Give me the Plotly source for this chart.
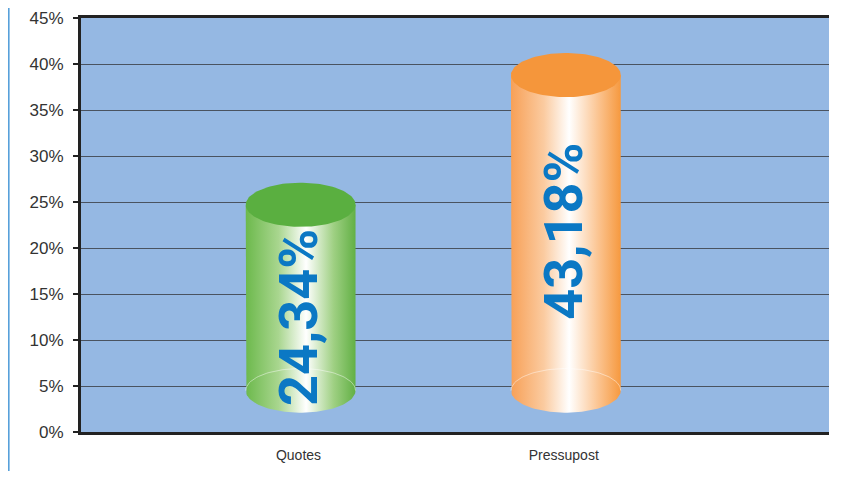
import numpy as np
import plotly.graph_objects as go

# ---- data ----
categories = ["Quotes", "Pressupost"]
value_labels = ["24,34%", "43,18%"]          # printed values
drawn_tops = [24.7, 38.8]                     # cylinder top heights as drawn (%)
drawn_bases = [4.5, 4.5]                      # cylinder floor heights as drawn (%)
y_ticks = [0, 5, 10, 15, 20, 25, 30, 35, 40, 45]
y_tick_labels = [f"{v}%" for v in y_ticks]

# ---- style ----
top_colors = ["#5aaf40", "#f5963b"]
side_scales = [
    [[0, "#6cb94c"], [0.3, "#a9d68f"], [0.55, "#ffffff"], [0.8, "#9fd083"], [1, "#62b045"]],
    [[0, "#f7a057"], [0.3, "#fbcba0"], [0.53, "#ffffff"], [0.8, "#fbc38f"], [1, "#f6993f"]],
]
half_w = 0.207
ry = 2.4
label_y = [12.5, 21.8]

fig = go.Figure()
t_front = np.linspace(np.pi, 2 * np.pi, 60)
t_full = np.linspace(0, 2 * np.pi, 120)
t_back = np.linspace(0, np.pi, 60)

for i, cat in enumerate(categories):
    cx = i + 0.008
    top = drawn_tops[i]
    base = drawn_bases[i]
    # body
    xs = [cx - half_w, cx - half_w] + list(cx + half_w * np.cos(t_front)) + [cx + half_w, cx - half_w]
    ys = [top, base] + list(base + ry * np.sin(t_front)) + [top, top]
    fig.add_trace(go.Scatter(
        x=xs, y=ys, mode="lines", line=dict(width=0), fill="toself",
        fillgradient=dict(type="horizontal", colorscale=side_scales[i]),
        hoverinfo="skip", showlegend=False))
    # faint back edge of floor ellipse
    fig.add_trace(go.Scatter(
        x=list(cx + half_w * np.cos(t_back)), y=list(base + ry * np.sin(t_back)),
        mode="lines", line=dict(color="rgba(255,255,255,0.45)", width=1),
        hoverinfo="skip", showlegend=False))
    # top ellipse
    fig.add_trace(go.Scatter(
        x=list(cx + half_w * np.cos(t_full)), y=list(top + ry * np.sin(t_full)),
        mode="lines", line=dict(width=0), fill="toself", fillcolor=top_colors[i],
        hoverinfo="skip", showlegend=False))
    fig.add_annotation(
        x=cx - 0.01, y=label_y[i], text=f"<b>{value_labels[i]}</b>", showarrow=False,
        textangle=-90, xanchor="center", yanchor="middle",
        font=dict(family="Roboto", size=54, color="#0b78c4", weight=900))

fig.update_layout(
    width=844, height=463,
    margin=dict(l=73, r=23, t=10, b=39),
    paper_bgcolor="white",
    plot_bgcolor="#95b8e3",
    font=dict(family="Liberation Sans, Arial", color="#333333"),
    xaxis=dict(
        range=[-0.82, 2.0], tickmode="array", tickvals=[0, 1], ticktext=categories,
        showgrid=False, zeroline=False, showline=True, linecolor="#222222", linewidth=3,
        mirror=True, ticks="", tickfont=dict(size=14, color="#333333"),
        ticklabelstandoff=8, fixedrange=True, automargin=False),
    yaxis=dict(
        range=[0, 45], tickmode="array", tickvals=y_ticks, ticktext=y_tick_labels,
        showgrid=True, gridcolor="#4a5360", gridwidth=1, zeroline=False,
        showline=True, linecolor="#222222", linewidth=3, mirror=False,
        ticks="outside", ticklen=5, tickwidth=2, tickcolor="#222222",
        tickfont=dict(size=17, color="#333333"), ticklabelstandoff=6, fixedrange=True,
        automargin=False, ticklabeloverflow="allow"),
    showlegend=False,
)
fig.add_shape(type="line", xref="paper", yref="paper", x0=-0.0965, x1=-0.0965, y0=-0.2, y1=1.1,
              line=dict(color="#4b9ad8", width=1.5))

fig.write_html("out.html")
